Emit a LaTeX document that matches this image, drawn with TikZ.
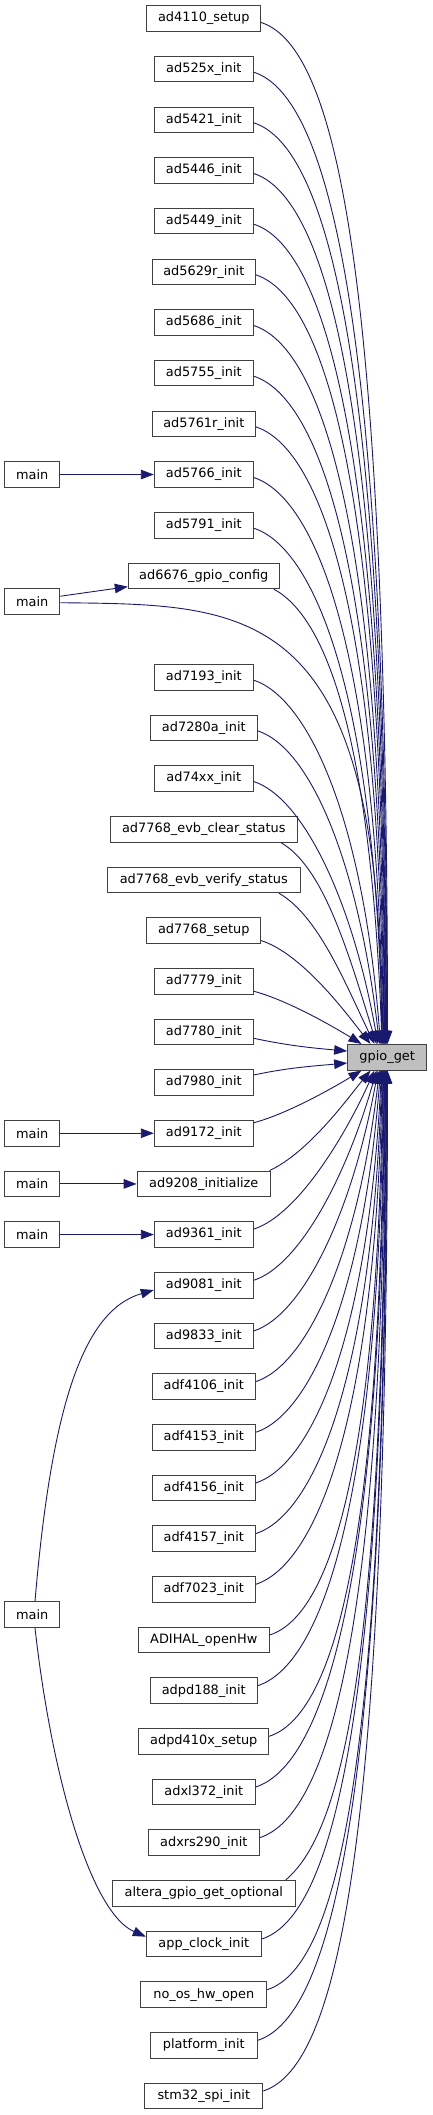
\documentclass[tikz,border=0pt]{standalone}
\usepackage{fontspec}
\setmainfont{DejaVu Sans}
\usetikzlibrary{arrows.meta,calc}
\definecolor{edgec}{HTML}{191970}
\definecolor{boxborder}{HTML}{404040}
\definecolor{hl}{HTML}{BFBFBF}
\newdimen\gya
\newdimen\gyb
\tikzset{
  box/.style={draw=boxborder, line width=1pt, fill=white, minimum height=25.6pt, inner sep=0pt,
    font=\fontsize{12.9}{14}\selectfont, text=black},
  edge/.style={draw=edgec, line width=0.9pt, -{Triangle[length=13pt,width=9.5pt]}},
}
% #1 start, #2 end, #3 start angle, #4 sign (1 down, -1 up)
\newcommand\calleredge[4]{%
  \path #1 coordinate (gs) #2 coordinate (ge);
  \pgfextracty{\gya}{\pgfpointanchor{gs}{center}}%
  \pgfextracty{\gyb}{\pgfpointanchor{ge}{center}}%
  \pgfmathsetmacro\gD{abs(\gyb-\gya)}%
  \pgfmathsetmacro\gka{40+0.04*\gD}%
  \pgfmathsetmacro\gkb{\gD*(0.35+0.4*(1-exp(-(\gD-100)/200)))}%
  \pgfmathsetmacro\gth{180-(#4)*(90-60*exp(-(\gD-50)/120))}%
  \draw[edge] #1 .. controls +(#3:\gka pt) and +(\gth:\gkb pt) .. #2;
}
\begin{document}
\begin{tikzpicture}[x=1pt,y=-1pt]
\fill[white] (0,0) rectangle (432,2115);
\useasboundingbox (0,0) rectangle (432,2115);

\node[box,minimum width=113.7pt] (n0) at (203.8,18.5) {ad4110\_setup};
\node[box,minimum width=99pt] (n1) at (203.8,69.17) {ad525x\_init};
\node[box,minimum width=99pt] (n2) at (203.8,119.84) {ad5421\_init};
\node[box,minimum width=99pt] (n3) at (203.8,170.51) {ad5446\_init};
\node[box,minimum width=99pt] (n4) at (203.8,221.18) {ad5449\_init};
\node[box,minimum width=103pt] (n5) at (203.8,271.85) {ad5629r\_init};
\node[box,minimum width=99pt] (n6) at (203.8,322.52) {ad5686\_init};
\node[box,minimum width=99pt] (n7) at (203.8,373.19) {ad5755\_init};
\node[box,minimum width=103pt] (n8) at (203.8,423.86) {ad5761r\_init};
\node[box,minimum width=99pt] (n9) at (203.8,474.53) {ad5766\_init};
\node[box,minimum width=99pt] (n10) at (203.8,525.2) {ad5791\_init};
\node[box,minimum width=151pt] (n11) at (203.8,575.87) {ad6676\_gpio\_config};
\node[box,minimum width=99pt] (n13) at (203.8,677.21) {ad7193\_init};
\node[box,minimum width=107pt] (n14) at (203.8,727.88) {ad7280a\_init};
\node[box,minimum width=99pt] (n15) at (203.8,778.55) {ad74xx\_init};
\node[box,minimum width=187pt] (n16) at (203.8,829.22) {ad7768\_evb\_clear\_status};
\node[box,minimum width=192.7pt] (n17) at (203.8,879.89) {ad7768\_evb\_verify\_status};
\node[box,minimum width=113.7pt] (n18) at (203.8,930.56) {ad7768\_setup};
\node[box,minimum width=99pt] (n19) at (203.8,981.23) {ad7779\_init};
\node[box,minimum width=99pt] (n20) at (203.8,1031.9) {ad7780\_init};
\node[box,minimum width=99pt] (n21) at (203.8,1082.57) {ad7980\_init};
\node[box,minimum width=99pt] (n22) at (203.8,1133.24) {ad9172\_init};
\node[box,minimum width=133.3pt] (n23) at (203.8,1183.91) {ad9208\_initialize};
\node[box,minimum width=99pt] (n24) at (203.8,1234.58) {ad9361\_init};
\node[box,minimum width=99pt] (n25) at (203.8,1285.25) {ad9081\_init};
\node[box,minimum width=99pt] (n26) at (203.8,1335.92) {ad9833\_init};
\node[box,minimum width=103pt] (n27) at (203.8,1386.59) {adf4106\_init};
\node[box,minimum width=103pt] (n28) at (203.8,1437.26) {adf4153\_init};
\node[box,minimum width=103pt] (n29) at (203.8,1487.93) {adf4156\_init};
\node[box,minimum width=103pt] (n30) at (203.8,1538.6) {adf4157\_init};
\node[box,minimum width=103pt] (n31) at (203.8,1589.27) {adf7023\_init};
\node[box,minimum width=131pt] (n32) at (203.8,1639.94) {ADIHAL\_openHw};
\node[box,minimum width=107pt] (n33) at (203.8,1690.61) {adpd188\_init};
\node[box,minimum width=129.7pt] (n34) at (203.8,1741.28) {adpd410x\_setup};
\node[box,minimum width=103pt] (n35) at (203.8,1791.95) {adxl372\_init};
\node[box,minimum width=111pt] (n36) at (203.8,1842.62) {adxrs290\_init};
\node[box,minimum width=182.6pt] (n37) at (203.8,1893.29) {altera\_gpio\_get\_optional};
\node[box,minimum width=115pt] (n38) at (203.8,1943.96) {app\_clock\_init};
\node[box,minimum width=126pt] (n39) at (203.8,1994.63) {no\_os\_hw\_open};
\node[box,minimum width=107pt] (n40) at (203.8,2045.3) {platform\_init};
\node[box,minimum width=118pt] (n41) at (203.8,2095.97) {stm32\_spi\_init};

\node[box,minimum width=55.3pt] (m1) at (32.3,474.53) {main};
\node[box,minimum width=55.3pt] (m2) at (32.3,601.2) {main};
\node[box,minimum width=55.3pt] (m3) at (32.3,1133.24) {main};
\node[box,minimum width=55.3pt] (m4) at (32.3,1183.91) {main};
\node[box,minimum width=55.3pt] (m5) at (32.3,1234.58) {main};
\node[box,minimum width=55.3pt] (m6) at (32.3,1614.6) {main};

\node[box,fill=hl,minimum width=79pt] (g) at (387.2,1057.24) {gpio\_get};

% main callers
\draw[edge] (m1.east) -- (n9.west);
\draw[edge] ([yshift=5pt]m2.east) -- ([yshift=-10.8pt]n11.west);
\draw[edge] (m3.east) -- (n22.west);
\draw[edge] (m4.east) -- (n23.west);
\draw[edge] (m5.east) -- (n24.west);
\draw[edge] ([xshift=2.7pt]m6.north) .. controls (52,1400) and (85,1310) .. ([yshift=-4.75pt]n25.west);
\draw[edge] ([xshift=2.7pt]m6.south) .. controls (52,1780) and (91.5,1913) .. ([yshift=7.3pt]n38.west);
\draw[edge] ([yshift=-1.5pt]m2.east) .. controls (250,605) and (382,600) .. ([xshift=34.3pt]g.north west);

% callers above
\calleredge{([yshift=-4pt]n0.east)}{([xshift=40.3pt]g.north west)}{-18}{1}
\calleredge{([yshift=-3pt]n1.east)}{([xshift=39.8pt]g.north west)}{-18}{1}
\calleredge{([yshift=-3pt]n2.east)}{([xshift=39.3pt]g.north west)}{-18}{1}
\calleredge{([yshift=-3pt]n3.east)}{([xshift=38.8pt]g.north west)}{-18}{1}
\calleredge{([yshift=-3pt]n4.east)}{([xshift=38.3pt]g.north west)}{-18}{1}
\calleredge{([yshift=-3pt]n5.east)}{([xshift=37.8pt]g.north west)}{-18}{1}
\calleredge{([yshift=-3pt]n6.east)}{([xshift=37.3pt]g.north west)}{-18}{1}
\calleredge{([yshift=-3pt]n7.east)}{([xshift=36.8pt]g.north west)}{-18}{1}
\calleredge{([yshift=-3pt]n8.east)}{([xshift=36.3pt]g.north west)}{-18}{1}
\calleredge{([yshift=-3pt]n9.east)}{([xshift=35.8pt]g.north west)}{-18}{1}
\calleredge{([yshift=-3pt]n10.east)}{([xshift=35.3pt]g.north west)}{-18}{1}
\calleredge{([xshift=-6pt]n11.south east)}{([xshift=34.8pt]g.north west)}{-28}{1}
\calleredge{([yshift=-3pt]n13.east)}{([xshift=33.3pt]g.north west)}{-18}{1}
\calleredge{([yshift=-3pt]n14.east)}{([xshift=32.3pt]g.north west)}{-18}{1}
\calleredge{([yshift=-3pt]n15.east)}{([xshift=30.8pt]g.north west)}{-18}{1}
\calleredge{([xshift=-17pt]n16.south east)}{([xshift=29.3pt]g.north west)}{-30}{1}
\calleredge{([xshift=-21.7pt]n17.south east)}{([xshift=27.3pt]g.north west)}{-30}{1}
\calleredge{([yshift=-10pt]n18.east)}{([xshift=23.3pt]g.north west)}{-18}{1}
\calleredge{([yshift=-10pt]n19.east)}{([xshift=14.3pt]g.north west)}{-15}{1}

% side callers
\draw[edge] ([yshift=-6.4pt]n20.east) .. controls +(-12:35pt) and +(175:35pt) .. ([yshift=6.2pt]g.west);
\draw[edge] ([yshift=7.6pt]n21.east) .. controls +(12:35pt) and +(185:35pt) .. ([yshift=-5.8pt]g.west);

% callers below
\calleredge{([yshift=10.5pt]n22.east)}{([xshift=14.3pt]g.south west)}{15}{-1}
\calleredge{([xshift=-1.5pt]n23.north east)}{([xshift=23.3pt]g.south west)}{25}{-1}
\calleredge{([yshift=5.5pt]n24.east)}{([xshift=27.3pt]g.south west)}{18}{-1}
\calleredge{([yshift=5pt]n25.east)}{([xshift=29.3pt]g.south west)}{18}{-1}
\calleredge{([yshift=5pt]n26.east)}{([xshift=30.8pt]g.south west)}{18}{-1}
\calleredge{([yshift=5pt]n27.east)}{([xshift=32.3pt]g.south west)}{18}{-1}
\calleredge{([yshift=5pt]n28.east)}{([xshift=33.3pt]g.south west)}{18}{-1}
\calleredge{([yshift=5pt]n29.east)}{([xshift=34.3pt]g.south west)}{18}{-1}
\calleredge{([yshift=5pt]n30.east)}{([xshift=34.8pt]g.south west)}{18}{-1}
\calleredge{([yshift=5pt]n31.east)}{([xshift=35.3pt]g.south west)}{18}{-1}
\calleredge{([yshift=5pt]n32.east)}{([xshift=35.8pt]g.south west)}{18}{-1}
\calleredge{([yshift=5pt]n33.east)}{([xshift=36.3pt]g.south west)}{18}{-1}
\calleredge{([yshift=5pt]n34.east)}{([xshift=36.8pt]g.south west)}{18}{-1}
\calleredge{([yshift=5pt]n35.east)}{([xshift=37.3pt]g.south west)}{18}{-1}
\calleredge{([yshift=5pt]n36.east)}{([xshift=37.8pt]g.south west)}{18}{-1}
\calleredge{([xshift=-10pt]n37.north east)}{([xshift=38.3pt]g.south west)}{40}{-1}
\calleredge{([yshift=5pt]n38.east)}{([xshift=38.8pt]g.south west)}{18}{-1}
\calleredge{([yshift=5pt]n39.east)}{([xshift=39.3pt]g.south west)}{18}{-1}
\calleredge{([yshift=5pt]n40.east)}{([xshift=39.8pt]g.south west)}{18}{-1}
\calleredge{([yshift=5pt]n41.east)}{([xshift=40.3pt]g.south west)}{18}{-1}
\end{tikzpicture}
\end{document}
